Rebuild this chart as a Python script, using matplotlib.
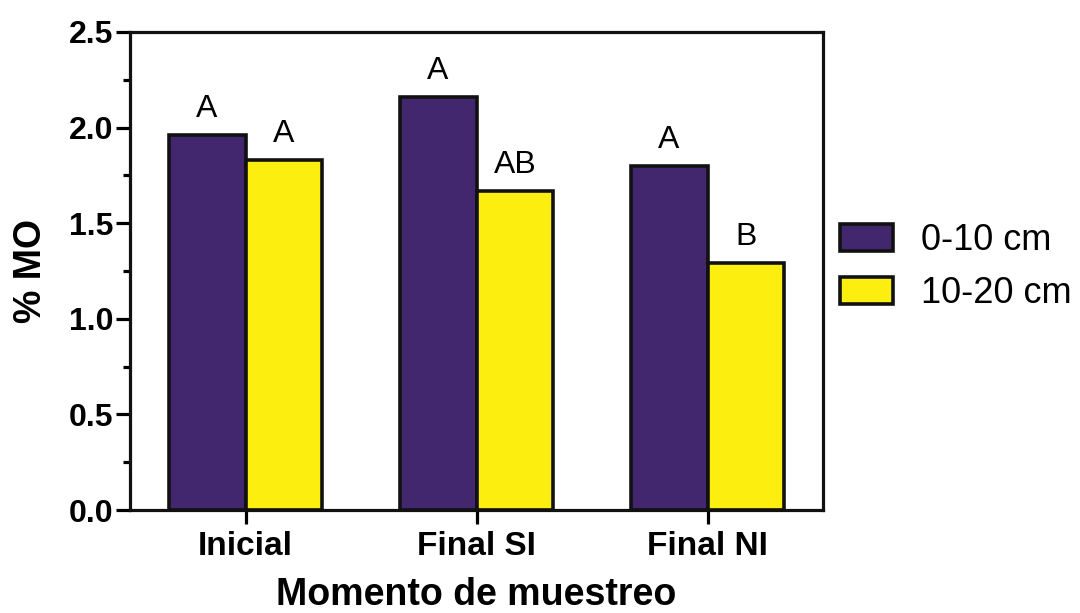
import numpy as np
import matplotlib
matplotlib.use('Agg')
import matplotlib.pyplot as plt
from matplotlib.ticker import MultipleLocator

# data
momentos = ['Inicial', 'Final SI', 'Final NI']
prof_0_10 = [1.96, 2.16, 1.80]
prof_10_20 = [1.83, 1.67, 1.29]
letras_0_10 = ['A', 'A', 'A']
letras_10_20 = ['A', 'AB', 'B']
series = ['0-10 cm', '10-20 cm']

plt.rcParams['font.family'] = ['Liberation Sans', 'DejaVu Sans']

fig = plt.figure(figsize=(10.8, 6.13), dpi=100)
ax = fig.add_axes([0.1204, 0.168, 0.6417, 0.780])

x = np.arange(len(momentos))
w = 0.333
b1 = ax.bar(x - w/2, prof_0_10, w, color='#42276F', edgecolor='#111111', linewidth=2.6, label=series[0])
b2 = ax.bar(x + w/2, prof_10_20, w, color='#FCEE0F', edgecolor='#111111', linewidth=2.6, label=series[1])

for bars, letras in [(b1, letras_0_10), (b2, letras_10_20)]:
    for r, t in zip(bars, letras):
        ax.annotate(t, (r.get_x() + r.get_width()/2, r.get_height()), xytext=(0, 8),
                    textcoords='offset points', ha='center', va='bottom', fontsize=23)

ax.set_xlim(-0.5, 2.5)
ax.set_ylim(0, 2.5)
ax.set_xticks(x)
ax.set_xticklabels(momentos, fontsize=24, fontweight='bold')
ax.yaxis.set_major_locator(MultipleLocator(0.5))
ax.yaxis.set_minor_locator(MultipleLocator(0.25))
ax.yaxis.set_major_formatter(plt.FormatStrFormatter('%.1f'))
for lab in ax.get_yticklabels():
    lab.set_fontsize(23)
    lab.set_fontweight('bold')

for s in ax.spines.values():
    s.set_linewidth(2.3)
    s.set_color('#111111')
ax.tick_params(axis='y', which='major', length=10, width=2.3, pad=2)
ax.tick_params(axis='y', which='minor', length=5, width=2.3)
ax.tick_params(axis='x', length=10, width=2.3, pad=5)

ax.set_ylabel('% MO', fontsize=27, fontweight='bold', labelpad=14)
ax.set_xlabel('Momento de muestreo', fontsize=27, fontweight='bold', labelpad=11)

fig.legend(loc='center left', bbox_to_anchor=(0.778, 0.5644), frameon=False, fontsize=26,
           borderpad=0, borderaxespad=0,
           handlelength=1.45, handleheight=0.78, handletextpad=0.78, labelspacing=0.5)

fig.savefig('out.png', dpi=100)
